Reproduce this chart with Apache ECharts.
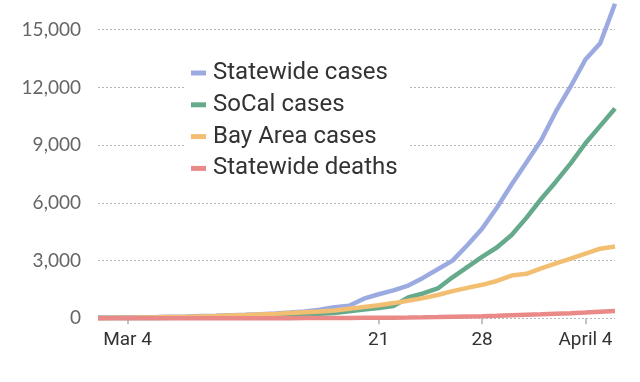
<!DOCTYPE html>
<html>
<head>
<meta charset="utf-8">
<script src="https://cdn.jsdelivr.net/npm/echarts@6/dist/echarts.min.js"></script>
<style>
html,body{margin:0;padding:0;background:#fff;}
#chart{width:640px;height:382px;}
</style>
</head>
<body>
<div id="chart"></div>
<script>
const dates = ['Mar 2','Mar 3','Mar 4','Mar 5','Mar 6','Mar 7','Mar 8','Mar 9','Mar 10','Mar 11','Mar 12','Mar 13','Mar 14','Mar 15','Mar 16','Mar 17','Mar 18','Mar 19','Mar 20','Mar 21','Mar 22','Mar 23','Mar 24','Mar 25','Mar 26','Mar 27','Mar 28','Mar 29','Mar 30','Mar 31','Apr 1','Apr 2','Apr 3','Apr 4','Apr 5','Apr 6'];
const statewideCases = [40,45,50,55,65,80,95,115,135,160,185,215,250,300,360,450,580,650,1020,1250,1450,1700,2100,2550,3000,3800,4650,5750,6950,8100,9250,10750,12050,13450,14300,16350];
const socalCases = [10,12,15,18,22,28,35,45,55,70,85,100,120,150,180,230,280,370,460,540,640,1080,1290,1550,2130,2660,3190,3680,4330,5220,6200,7100,8050,9100,10000,10900];
const bayAreaCases = [20,25,30,40,50,65,80,100,120,145,170,200,230,270,310,350,410,500,590,680,790,910,1050,1210,1410,1580,1740,1940,2220,2310,2600,2850,3100,3360,3620,3730];
const statewideDeaths = [0,0,1,1,1,1,2,2,3,4,4,5,6,7,10,13,16,19,24,28,34,40,50,63,80,95,110,130,155,180,205,235,265,300,340,380];
const tickDates = ['Mar 4','Mar 21','Mar 28','Apr 4'];
const tickTexts = ['Mar 4','21','28','April 4'];
const seriesNames = ['Statewide cases','SoCal cases','Bay Area cases','Statewide deaths'];
const seriesColors = ['#9caae2','#66aa8c','#f2bf72','#e98a88'];

const showTick = (i) => tickDates.indexOf(dates[i]) >= 0;
const seriesData = [statewideCases, socalCases, bayAreaCases, statewideDeaths];

const chart = echarts.init(document.getElementById('chart'), null, {renderer:'canvas'});
chart.setOption({
  animation: false,
  backgroundColor: '#fff',
  grid: {left: 98, right: 25, top: 29.7, bottom: 63.7, containLabel: false},
  legend: {
    orient: 'vertical',
    left: 186,
    top: 52.5,
    padding: [8, 11, 8, 5],
    backgroundColor: '#fff',
    icon: 'rect',
    itemWidth: 15,
    itemHeight: 5,
    itemGap: 6.8,
    textStyle: {fontFamily: 'Roboto', fontSize: 24, color: '#333', lineHeight: 25, padding: [0,0,0,2]},
    data: seriesNames
  },
  xAxis: {
    type: 'category',
    data: dates,
    boundaryGap: false,
    axisLine: {show: false},
    axisTick: {show: true, interval: (i) => showTick(i), length: 6, lineStyle: {color: '#c4c4c4', width: 2}},
    axisLabel: {
      interval: (i) => showTick(i),
      formatter: (v) => tickTexts[tickDates.indexOf(v)],
      fontFamily: 'Roboto', fontSize: 19, color: '#333', margin: 12
    },
    splitLine: {show: false}
  },
  yAxis: {
    type: 'value',
    min: 0, max: 15000, interval: 3000,
    axisLine: {show: false},
    axisTick: {show: false},
    axisLabel: {
      formatter: (v) => v.toLocaleString('en-US'),
      fontFamily: 'Lato', fontSize: 19, color: '#666', margin: 17
    },
    splitLine: {show: true, lineStyle: {type: [2, 2], color: '#b5b5b5', width: 1}}
  },
  series: seriesNames.map((n, k) => ({
    name: n,
    type: 'line',
    data: seriesData[k],
    color: seriesColors[k],
    showSymbol: false,
    clip: false,
    lineStyle: {width: 4.5, color: seriesColors[k]},
    z: 2 + k
  }))
});
</script>
</body>
</html>
